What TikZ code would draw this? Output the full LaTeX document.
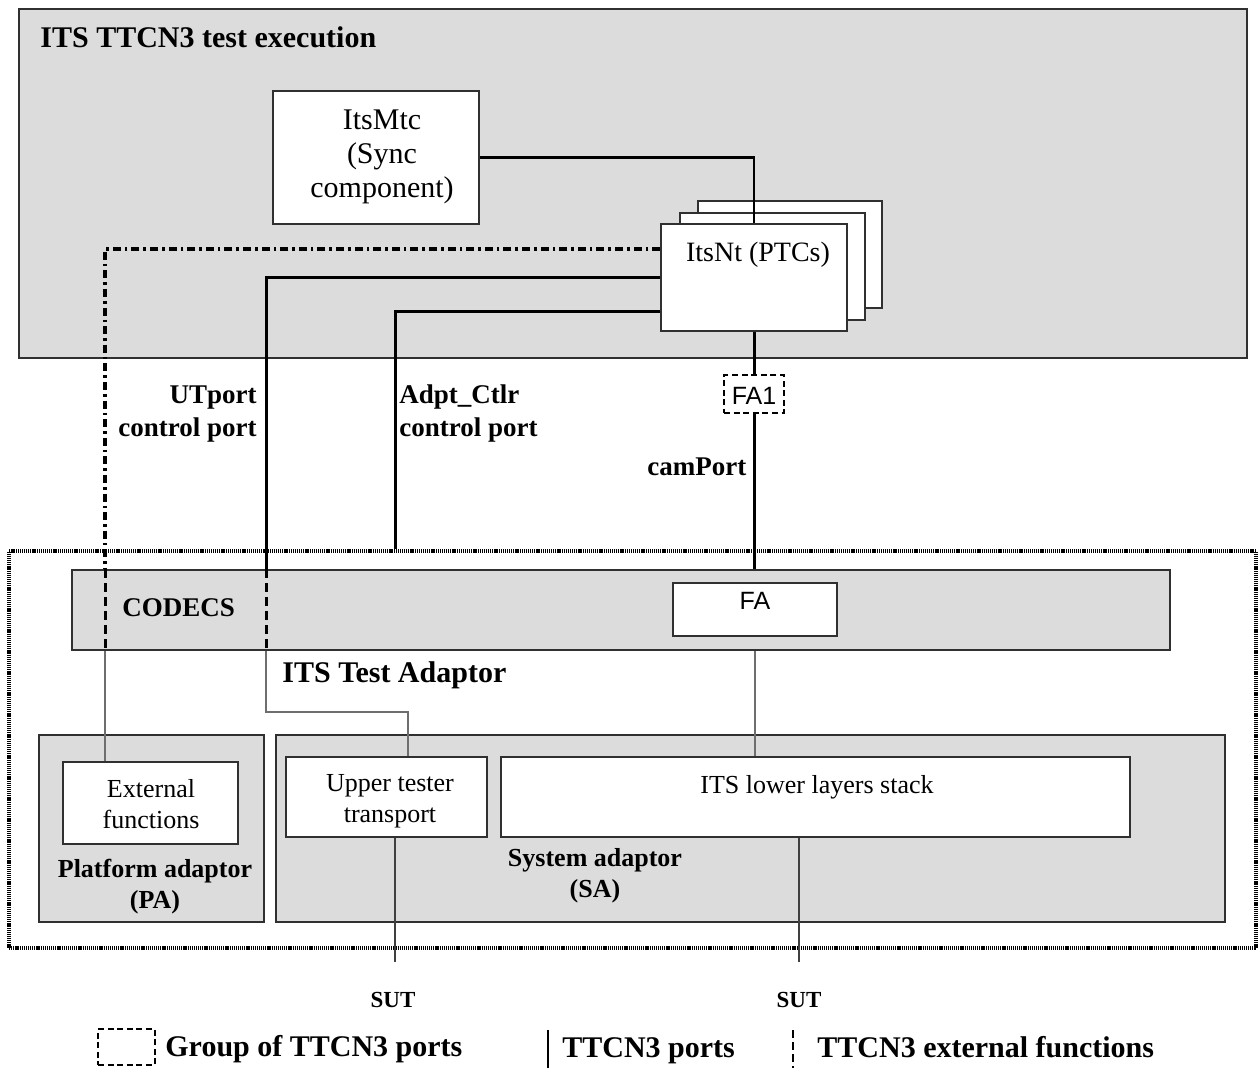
\documentclass[tikz,border=0pt]{standalone}
\usepackage{fontspec}
\setmainfont{Liberation Serif}
\newfontfamily\arialf{Liberation Sans}
\usetikzlibrary{fit}
\definecolor{panel}{HTML}{DCDCDC}
\definecolor{edge}{HTML}{303030}
\definecolor{thinc}{HTML}{6E6E6E}
\begin{document}
\begin{tikzpicture}[x=0.5pt,y=-0.5pt,
  panelbox/.style={draw=edge,line width=0.75pt,fill=panel,inner sep=0pt},
  whitebox/.style={draw=edge,line width=0.75pt,fill=white,inner sep=0pt},
  portline/.style={line width=1.5pt,black},
  syncline/.style={line width=1.1pt,black},
  extdash/.style={line width=1.6pt,dash pattern=on 4pt off 2pt on 1.3pt off 2pt},
  extcodec/.style={line width=1.5pt,dash pattern=on 4.5pt off 2.5pt},
  grayline/.style={line width=0.7pt,draw=thinc},
  sutline/.style={line width=0.7pt,draw=black!75},
  grpbox/.style={draw,line width=1.2pt,dash pattern=on 3pt off 1.8pt,inner sep=0pt},
  adaptorframe/.style={draw,line width=1.9pt,dash pattern=on 0.6pt off 0.45pt,inner sep=0pt},
  lbl/.style={font=\fontsize{13.5}{16.5}\selectfont\bfseries,inner sep=0pt},
  adl/.style={font=\fontsize{13}{15.5}\selectfont\bfseries,inner sep=0pt},
  txt/.style={font=\fontsize{13}{15.5}\selectfont,inner sep=0pt,align=center},
  sans/.style={font=\fontsize{12.5}{15}\selectfont\arialf,inner sep=0pt},
]
\path[use as bounding box] (0,0) rectangle (1258,1068);

% TTCN3 execution area
\node[panelbox,fit={(19,9)(1247,358)}] (exec) {};
\node[font=\fontsize{15}{17}\selectfont\bfseries,anchor=base west,inner sep=0pt] (title) at (40,48) {ITS TTCN3 test execution};

\node[whitebox,fit={(273,91)(479,224)}] (mtc) {};
\node[font=\fontsize{15}{17}\selectfont,align=center,inner sep=0pt] (mtctext) at (382,157) {ItsMtc\\(Sync\\component)};

\node[whitebox,fit={(698,201)(882,308)}] (ptc3) {};
\node[whitebox,fit={(680,213)(865,320)}] (ptc2) {};
\node[whitebox,fit={(661,224)(847,331)}] (ptc) {};
\node[font=\fontsize{14}{16}\selectfont,anchor=base,inner sep=0pt] (ptctext) at (758,262) {ItsNt (PTCs)};

\node[grpbox,fit={(724,375)(784,413)}] (fa1) {};
\node[sans,anchor=base] (fa1text) at (754,405) {FA1};

% Test adaptor
\node[adaptorframe,fit={(9,551)(1256,948)}] (ta) {};
\node[panelbox,fit={(72,570)(1170,650)}] (codecs) {};
\node[lbl,anchor=base west] (codecstext) at (122,617) {CODECS};
\node[whitebox,fit={(673,583)(837,636)}] (fa) {};
\node[sans,anchor=base] (fatext) at (755,610) {FA};
\node[font=\fontsize{15}{17}\selectfont\bfseries,anchor=base west,inner sep=0pt] (tatext) at (282,683) {ITS Test Adaptor};

\node[panelbox,fit={(39,735)(264,922)}] (pa) {};
\node[whitebox,fit={(63,762)(238,844)}] (ext) {};
\node[txt,anchor=base] (exttext) at (151,828) {External\\functions};
\node[adl,align=center,anchor=base] (patext) at (155,908) {Platform adaptor\\(PA)};

\node[panelbox,fit={(276,735)(1225,922)}] (sa) {};
\node[whitebox,fit={(286,757)(487,837)}] (ut) {};
\node[txt,anchor=base] (uttext) at (390,822) {Upper tester\\transport};
\node[whitebox,fit={(501,757)(1130,837)}] (lls) {};
\node[txt,anchor=base] (llstext) at (817,793) {ITS lower layers stack};
\node[adl,align=center,anchor=base] (satext) at (595,897) {System adaptor\\(SA)};

% port labels
\node[lbl,align=right,anchor=base east] (utlabel) at (257,437) {UTport\\control port};
\node[lbl,align=left,anchor=base west] (adlabel) at (399,437) {Adpt\_Ctlr\\control port};
\node[lbl,anchor=base west] (camlabel) at (647,476) {camPort};

% helper coordinates
\coordinate (extCorner) at (105,249);
\coordinate (utCorner) at (266,278);
\coordinate (adCorner) at (395,312);
\coordinate (utBend) at (408,712);
\coordinate (sutEnd1) at (395,962);
\coordinate (sutEnd2) at (799,962);

% connectors
\draw[syncline] (mtc.east) -| (ptc.north);

\draw[extdash] (ptc.west |- extCorner) -- (extCorner) -- (extCorner |- codecs.north);
\draw[extcodec] (extCorner |- codecs.north) -- (extCorner |- codecs.south);
\draw[grayline] (extCorner |- codecs.south) -- (extCorner |- ext.north);

\draw[portline] (ptc.west |- utCorner) -- (utCorner) -- (utCorner |- codecs.north);
\draw[extcodec] (utCorner |- codecs.north) -- (utCorner |- codecs.south);
\draw[grayline] (utCorner |- codecs.south) |- (utBend) -- (utBend |- ut.north);

\draw[portline] (ptc.west |- adCorner) -- (adCorner) -- (adCorner |- ta.north);

\draw[portline] (ptc.south) -- (fa1.north);
\draw[portline] (fa1.south) -- (fa1.south |- codecs.north);
\draw[grayline] (fa.south |- codecs.south) -- (fa.south |- lls.north);

\draw[sutline] (sutEnd1 |- ut.south) -- (sutEnd1);
\draw[sutline] (sutEnd2 |- lls.south) -- (sutEnd2);
\node[font=\fontsize{11.5}{13}\selectfont\bfseries,anchor=base,inner sep=0pt] (sut1) at (393,1007) {SUT};
\node[font=\fontsize{11.5}{13}\selectfont\bfseries,anchor=base,inner sep=0pt] (sut2) at (799,1007) {SUT};

% legend
\node[grpbox,fit={(98,1029)(155,1065)}] (lgGroup) {};
\node[font=\fontsize{15}{17}\selectfont\bfseries,anchor=base west,inner sep=0pt] (lgGroupText) at (165,1056) {Group of TTCN3 ports};
\coordinate (lgPortTop) at (548,1030);
\coordinate (lgPortBot) at (548,1068);
\draw[line width=1.1pt] (lgPortTop) -- (lgPortBot);
\node[font=\fontsize{15}{17}\selectfont\bfseries,anchor=base west,inner sep=0pt] (lgPortText) at (562,1057) {TTCN3 ports};
\coordinate (lgExtTop) at (793,1030);
\coordinate (lgExtBot) at (793,1068);
\draw[line width=1.1pt,dash pattern=on 4pt off 2pt] (lgExtTop) -- (lgExtBot);
\node[font=\fontsize{15}{17}\selectfont\bfseries,anchor=base west,inner sep=0pt] (lgExtText) at (817,1057) {TTCN3 external functions};
\end{tikzpicture}
\end{document}
